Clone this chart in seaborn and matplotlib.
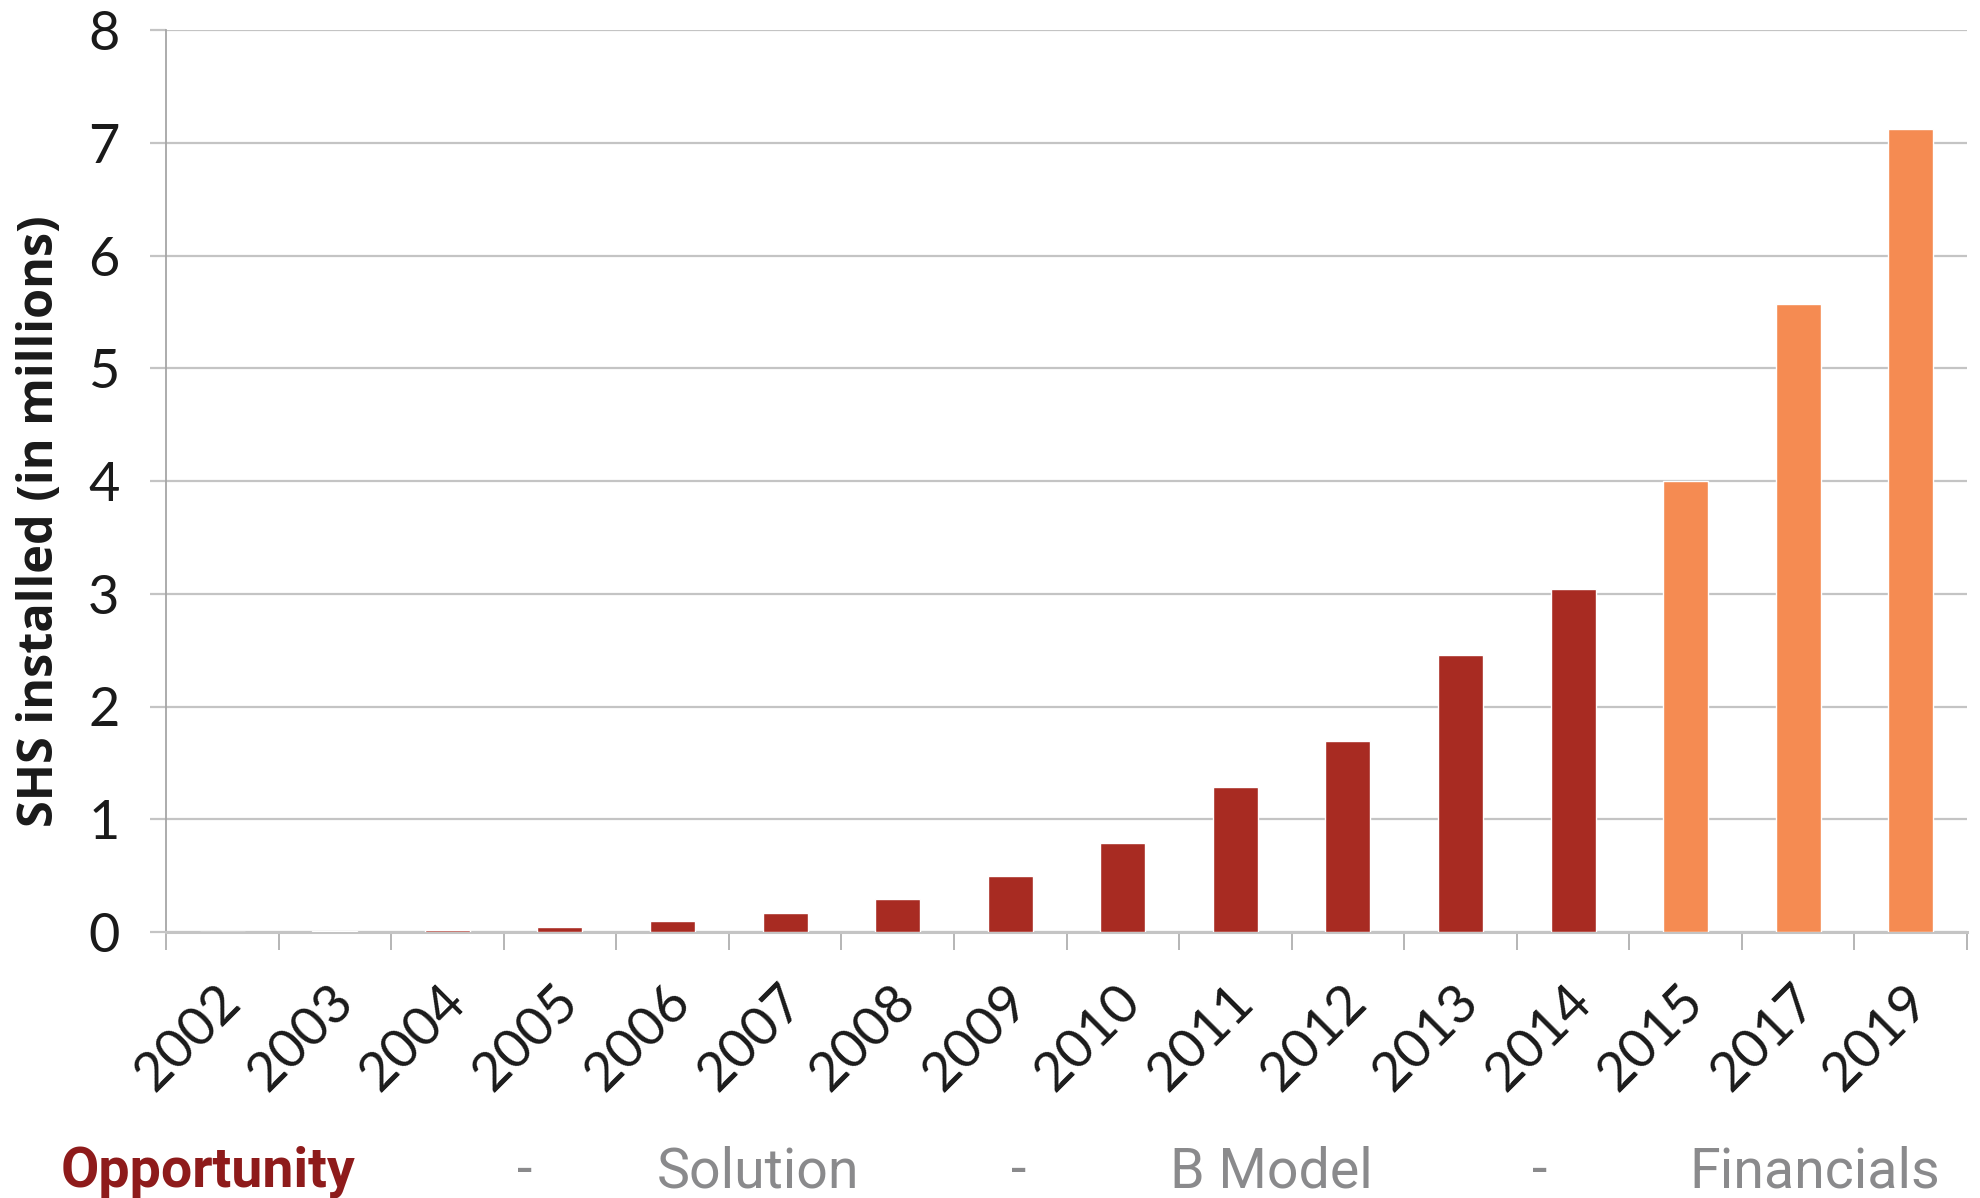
import numpy as np
import matplotlib
matplotlib.use('Agg')
import matplotlib.pyplot as plt
import matplotlib.transforms as mtransforms
import seaborn as sns

# data
years = ['2002', '2003', '2004', '2005', '2006', '2007', '2008', '2009',
         '2010', '2011', '2012', '2013', '2014', '2015', '2017', '2019']
shs_millions = [0.0, 0.01, 0.02, 0.045, 0.10, 0.17, 0.29, 0.50,
                0.79, 1.29, 1.69, 2.46, 3.04, 4.00, 5.57, 7.12]
is_projection = [False] * 13 + [True] * 3

footer_items = ['Opportunity', '-', 'Solution', '-', 'B Model', '-', 'Financials']
footer_x = [61, 517, 657, 1011, 1170, 1532, 1689]

ACTUAL = '#A82B22'
PROJECTED = '#F58B52'
GRID = '#C4C4C4'

sns.set_theme(style='white')
plt.rcParams['font.family'] = ['Lato', 'DejaVu Sans']

W, H = 1980, 1198
fig = plt.figure(figsize=(W / 100, H / 100), dpi=100)
ax = fig.add_axes([166 / W, 1 - 932 / H, (1967 - 166) / W, (932 - 30) / H])

palette = {y: (PROJECTED if p else ACTUAL) for y, p in zip(years, is_projection)}
sns.barplot(x=years, y=shs_millions, hue=years, palette=palette, legend=False,
            width=0.4, saturation=1, ax=ax, zorder=3)

ax.set_ylim(0, 8)
ax.set_xlim(-0.5, len(years) - 0.5)
ax.set_yticks(range(0, 9))
ax.yaxis.grid(True, color=GRID, linewidth=1.6, zorder=0)
ax.set_axisbelow(True)

for side in ['top', 'right']:
    ax.spines[side].set_visible(False)
ax.spines['left'].set_color('#A6A6A6')
ax.spines['left'].set_linewidth(1.3)
ax.spines['bottom'].set_color(GRID)
ax.spines['bottom'].set_linewidth(2.2)

# y ticks extend out to the left like the gridlines
ax.tick_params(axis='y', which='major', left=True, length=11.5, width=1.6,
               color=GRID, pad=22, labelsize=39, labelcolor='#1a1a1a')

# x: boundary ticks (minor) and labels at centres (major, no tick)
ax.set_xticks(np.arange(-0.5, len(years)), minor=True)
ax.tick_params(axis='x', which='minor', bottom=True, length=13, width=1.3, color='#B0B0B0')
ax.tick_params(axis='x', which='major', bottom=False, length=0, pad=44,
               labelsize=39, labelcolor='#1a1a1a')
ax.set_xticks(range(len(years)))
ax.set_xticklabels(years, rotation=45, ha='right', va='center', rotation_mode='anchor')
shift = mtransforms.ScaledTranslation(0.10, 0, fig.dpi_scale_trans)
for lab in ax.get_xticklabels():
    lab.set_transform(lab.get_transform() + shift)

ax.set_xlabel('')
ax.set_ylabel('')
fig.text(41 / W, 1 - 521 / H, 'SHS installed (in millions)', rotation=90,
         ha='center', va='center', fontsize=35, fontweight='bold', color='#1a1a1a',
         family=['Open Sans', 'DejaVu Sans'])

# footer navigation
for txt, x in zip(footer_items, footer_x):
    if txt == 'Opportunity':
        fig.text(x / W, 1 - 1187 / H, txt, ha='left', va='baseline', fontsize=40,
                 fontweight='bold', color='#8E1B1B',
                 family=['Liberation Sans Narrow', 'Roboto', 'DejaVu Sans'])
    else:
        fig.text(x / W, 1 - 1187 / H, txt, ha='left', va='baseline', fontsize=40,
                 color='#8A8A8C',
                 family=['Liberation Sans Narrow', 'Roboto', 'DejaVu Sans'])

fig.savefig('out.png', dpi=100)
plt.close(fig)
